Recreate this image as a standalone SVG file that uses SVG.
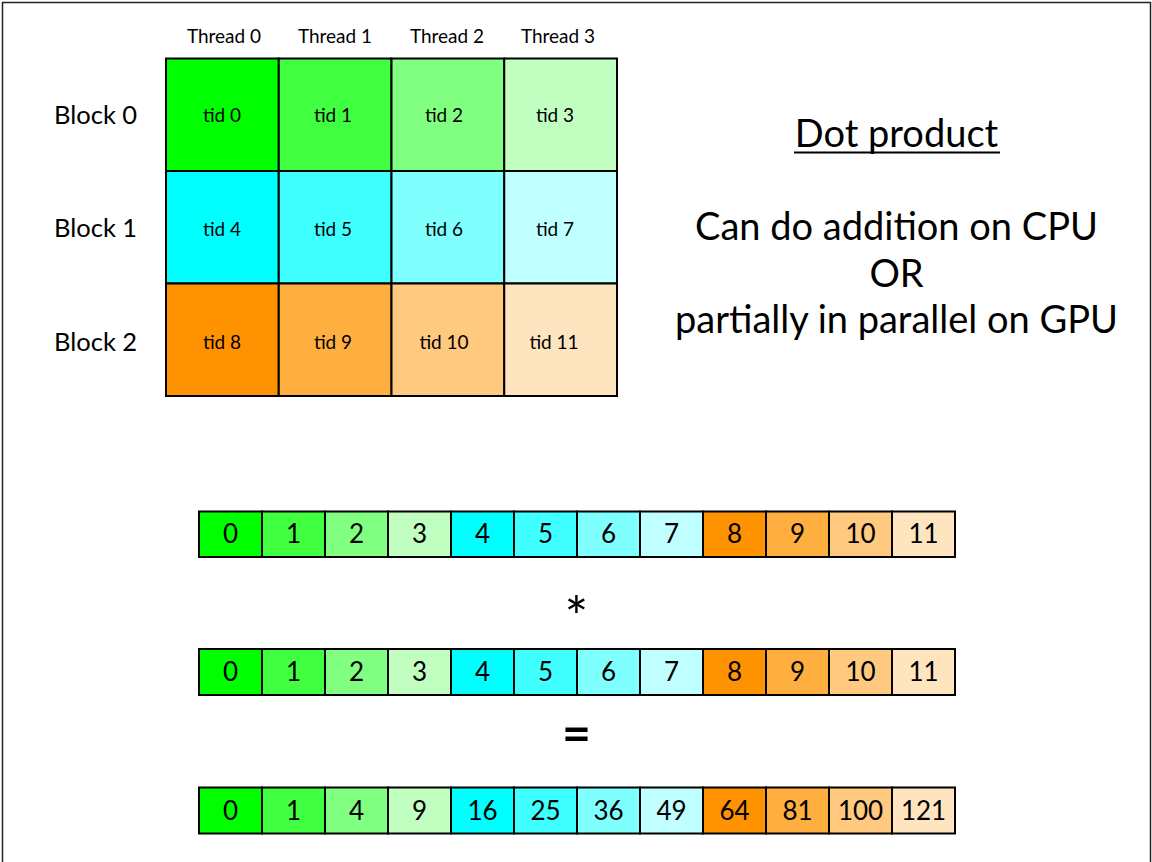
<svg xmlns="http://www.w3.org/2000/svg" width="1152" height="862" viewBox="0 0 1152 862">
  <style>
    text { font-family: Lato, "Open Sans", "Liberation Sans", sans-serif; fill: #000; }
    .hdr { font-size: 19px; text-anchor: middle; }
    .tid { font-size: 19px; text-anchor: middle; }
    .blk { font-size: 25.5px; }
    .num { font-size: 26px; text-anchor: middle; }
    .big { font-size: 38px; text-anchor: middle; }
    .op { text-anchor: middle; }
    .cell { stroke: #000; stroke-width: 2; }
    .g0 { fill: #00ff00; } .g1 { fill: #40ff40; } .g2 { fill: #80ff80; } .g3 { fill: #c0ffc0; }
    .c0 { fill: #00ffff; } .c1 { fill: #40ffff; } .c2 { fill: #80ffff; } .c3 { fill: #c0ffff; }
    .o0 { fill: #ff9200; } .o1 { fill: #ffae40; } .o2 { fill: #ffc980; } .o3 { fill: #ffe4c0; }
  </style>

  <rect width="1152" height="862" fill="#fff"/>
  <!-- slide frame -->
  <path d="M2.5,862 V2.5 H1150.5 V862" fill="none" stroke="#222" stroke-width="1.5"/>

  <!-- column headers -->
  <g id="thread-headers">
    <text class="hdr" x="224" y="42.5">Thread 0</text>
    <text class="hdr" x="335" y="42.5">Thread 1</text>
    <text class="hdr" x="447" y="42.5">Thread 2</text>
    <text class="hdr" x="558" y="42.5">Thread 3</text>
  </g>

  <!-- row headers -->
  <g id="block-labels">
    <text class="blk" x="54" y="124">Block 0</text>
    <text class="blk" x="54" y="237">Block 1</text>
    <text class="blk" x="54" y="351">Block 2</text>
  </g>

  <!-- thread grid: 3 blocks x 4 threads -->
  <g id="grid">
    <g id="tid0"><rect class="cell g0" x="166" y="58.5" width="112.75" height="112.5"/><text class="tid" x="222" y="122">tid 0</text></g>
    <g id="tid1"><rect class="cell g1" x="278.75" y="58.5" width="112.75" height="112.5"/><text class="tid" x="333" y="122">tid 1</text></g>
    <g id="tid2"><rect class="cell g2" x="391.5" y="58.5" width="112.75" height="112.5"/><text class="tid" x="444" y="122">tid 2</text></g>
    <g id="tid3"><rect class="cell g3" x="504.25" y="58.5" width="112.75" height="112.5"/><text class="tid" x="555" y="122">tid 3</text></g>

    <g id="tid4"><rect class="cell c0" x="166" y="171" width="112.75" height="112.5"/><text class="tid" x="222" y="236">tid 4</text></g>
    <g id="tid5"><rect class="cell c1" x="278.75" y="171" width="112.75" height="112.5"/><text class="tid" x="333" y="236">tid 5</text></g>
    <g id="tid6"><rect class="cell c2" x="391.5" y="171" width="112.75" height="112.5"/><text class="tid" x="444" y="236">tid 6</text></g>
    <g id="tid7"><rect class="cell c3" x="504.25" y="171" width="112.75" height="112.5"/><text class="tid" x="555" y="236">tid 7</text></g>

    <g id="tid8"><rect class="cell o0" x="166" y="283.5" width="112.75" height="112.5"/><text class="tid" x="222" y="348.5">tid 8</text></g>
    <g id="tid9"><rect class="cell o1" x="278.75" y="283.5" width="112.75" height="112.5"/><text class="tid" x="333" y="348.5">tid 9</text></g>
    <g id="tid10"><rect class="cell o2" x="391.5" y="283.5" width="112.75" height="112.5"/><text class="tid" x="444" y="348.5">tid 10</text></g>
    <g id="tid11"><rect class="cell o3" x="504.25" y="283.5" width="112.75" height="112.5"/><text class="tid" x="554" y="348.5">tid 11</text></g>
  </g>

  <!-- explanation -->
  <g id="notes">
    <text class="big" x="896.5" y="147">Dot product</text>
    <rect x="794" y="151.5" width="206" height="2"/>
    <text class="big" x="896.5" y="240">Can do addition on CPU</text>
    <text class="big" x="896.5" y="286.5">OR</text>
    <text class="big" x="896.5" y="333">partially in parallel on GPU</text>
  </g>

  <!-- vector a -->
  <g id="vec-a">
    <rect class="cell g0" x="199" y="511.5" width="63" height="45.5"/><text class="num" x="230.5" y="543">0</text>
    <rect class="cell g1" x="262" y="511.5" width="63" height="45.5"/><text class="num" x="293.5" y="543">1</text>
    <rect class="cell g2" x="325" y="511.5" width="63" height="45.5"/><text class="num" x="356.5" y="543">2</text>
    <rect class="cell g3" x="388" y="511.5" width="63" height="45.5"/><text class="num" x="419.5" y="543">3</text>
    <rect class="cell c0" x="451" y="511.5" width="63" height="45.5"/><text class="num" x="482.5" y="543">4</text>
    <rect class="cell c1" x="514" y="511.5" width="63" height="45.5"/><text class="num" x="545.5" y="543">5</text>
    <rect class="cell c2" x="577" y="511.5" width="63" height="45.5"/><text class="num" x="608.5" y="543">6</text>
    <rect class="cell c3" x="640" y="511.5" width="63" height="45.5"/><text class="num" x="671.5" y="543">7</text>
    <rect class="cell o0" x="703" y="511.5" width="63" height="45.5"/><text class="num" x="734.5" y="543">8</text>
    <rect class="cell o1" x="766" y="511.5" width="63" height="45.5"/><text class="num" x="797.5" y="543">9</text>
    <rect class="cell o2" x="829" y="511.5" width="63" height="45.5"/><text class="num" x="860.5" y="543">10</text>
    <rect class="cell o3" x="892" y="511.5" width="63" height="45.5"/><text class="num" x="923.5" y="543">11</text>
  </g>

  <text id="op-mul" class="op" x="576.5" y="637" font-size="56">*</text>

  <!-- vector b -->
  <g id="vec-b">
    <rect class="cell g0" x="199" y="649" width="63" height="46"/><text class="num" x="230.5" y="681">0</text>
    <rect class="cell g1" x="262" y="649" width="63" height="46"/><text class="num" x="293.5" y="681">1</text>
    <rect class="cell g2" x="325" y="649" width="63" height="46"/><text class="num" x="356.5" y="681">2</text>
    <rect class="cell g3" x="388" y="649" width="63" height="46"/><text class="num" x="419.5" y="681">3</text>
    <rect class="cell c0" x="451" y="649" width="63" height="46"/><text class="num" x="482.5" y="681">4</text>
    <rect class="cell c1" x="514" y="649" width="63" height="46"/><text class="num" x="545.5" y="681">5</text>
    <rect class="cell c2" x="577" y="649" width="63" height="46"/><text class="num" x="608.5" y="681">6</text>
    <rect class="cell c3" x="640" y="649" width="63" height="46"/><text class="num" x="671.5" y="681">7</text>
    <rect class="cell o0" x="703" y="649" width="63" height="46"/><text class="num" x="734.5" y="681">8</text>
    <rect class="cell o1" x="766" y="649" width="63" height="46"/><text class="num" x="797.5" y="681">9</text>
    <rect class="cell o2" x="829" y="649" width="63" height="46"/><text class="num" x="860.5" y="681">10</text>
    <rect class="cell o3" x="892" y="649" width="63" height="46"/><text class="num" x="923.5" y="681">11</text>
  </g>

  <text id="op-eq" class="op" x="576.5" y="750.5" font-size="50" font-weight="bold">=</text>

  <!-- element-wise products -->
  <g id="vec-c">
    <rect class="cell g0" x="199" y="787.5" width="63" height="46"/><text class="num" x="230.5" y="819.5">0</text>
    <rect class="cell g1" x="262" y="787.5" width="63" height="46"/><text class="num" x="293.5" y="819.5">1</text>
    <rect class="cell g2" x="325" y="787.5" width="63" height="46"/><text class="num" x="356.5" y="819.5">4</text>
    <rect class="cell g3" x="388" y="787.5" width="63" height="46"/><text class="num" x="419.5" y="819.5">9</text>
    <rect class="cell c0" x="451" y="787.5" width="63" height="46"/><text class="num" x="482.5" y="819.5">16</text>
    <rect class="cell c1" x="514" y="787.5" width="63" height="46"/><text class="num" x="545.5" y="819.5">25</text>
    <rect class="cell c2" x="577" y="787.5" width="63" height="46"/><text class="num" x="608.5" y="819.5">36</text>
    <rect class="cell c3" x="640" y="787.5" width="63" height="46"/><text class="num" x="671.5" y="819.5">49</text>
    <rect class="cell o0" x="703" y="787.5" width="63" height="46"/><text class="num" x="734.5" y="819.5">64</text>
    <rect class="cell o1" x="766" y="787.5" width="63" height="46"/><text class="num" x="797.5" y="819.5">81</text>
    <rect class="cell o2" x="829" y="787.5" width="63" height="46"/><text class="num" x="860.5" y="819.5">100</text>
    <rect class="cell o3" x="892" y="787.5" width="63" height="46"/><text class="num" x="923.5" y="819.5">121</text>
  </g>
</svg>
